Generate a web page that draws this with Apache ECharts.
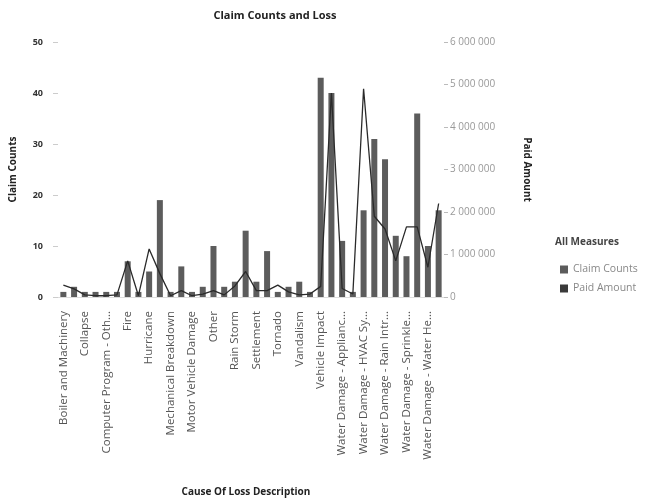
<!DOCTYPE html>
<html>
<head>
<meta charset="utf-8">
<script src="https://cdn.jsdelivr.net/npm/echarts@6/dist/echarts.min.js"></script>
<style>
  html, body { margin: 0; padding: 0; background: #fff; }
  #main { width: 650px; height: 502px; }
</style>
</head>
<body>
<div id="main"></div>
<script>
var categories = [
  'Boiler and Machinery', 'Burglary', 'Collapse', 'Computer Equipment',
  'Computer Program - Oth...', 'Explosion', 'Fire', 'Hail',
  'Hurricane', 'Lightning', 'Mechanical Breakdown', 'Mold',
  'Motor Vehicle Damage', 'Off Premises Power', 'Other', 'Power Surge',
  'Rain Storm', 'Roof Leak', 'Settlement', 'Theft',
  'Tornado', 'Utility Failure', 'Vandalism', 'Vehicle Damage',
  'Vehicle Impact', 'Volcanic Eruption', 'Water Damage - Applianc...', 'Water Damage - Frozen P...',
  'Water Damage - HVAC Sy...', 'Water Damage - Pipe Bur...', 'Water Damage - Rain Intr...', 'Water Damage - Sewer B...',
  'Water Damage - Sprinkle...', 'Water Damage - Toilet O...', 'Water Damage - Water He...', 'Windstorm'
];
var claimCounts = [1, 2, 1, 1, 1, 1, 7, 1, 5, 19, 1, 6, 1, 2, 10, 2, 3, 13, 3, 9, 1, 2, 3, 1, 43, 40, 11, 1, 17, 31, 27, 12, 8, 36, 10, 17];
var paidAmount = [280000, 190000, 50000, 30000, 30000, 50000, 850000, 30000, 1130000, 550000, 30000, 150000,
  30000, 70000, 150000, 50000, 260000, 600000, 150000, 150000, 280000, 120000, 50000, 70000,
  250000, 4800000, 200000, 70000, 4900000, 1900000, 1600000, 850000, 1650000, 1650000, 700000, 2200000];
var countTicks = { min: 0, max: 50, interval: 10 };
var amountTicks = { min: 0, max: 6000000, interval: 1000000 };

var dom = document.getElementById('main');
var myChart = echarts.init(dom);
var font = 'Open Sans, DejaVu Sans, sans-serif';

function spaced(v) {
  return String(v).replace(/\B(?=(\d{3})+(?!\d))/g, ' ');
}

var option = {
  backgroundColor: '#ffffff',
  animation: false,
  textStyle: { fontFamily: font },
  title: {
    text: 'Claim Counts and Loss',
    left: 270, top: 5, textAlign: 'center',
    textStyle: { fontSize: 11, fontWeight: 'bold', color: '#222', fontFamily: font }
  },
  legend: {
    orient: 'vertical',
    left: 555, top: 259,
    icon: 'rect', itemWidth: 8, itemHeight: 8, itemGap: 8,
    textStyle: { fontSize: 10.5, color: '#888', fontFamily: font },
    data: ['Claim Counts', 'Paid Amount']
  },
  graphic: [{
    type: 'text', left: 555, top: 237,
    style: { text: 'All Measures', fontSize: 10, fontWeight: 'bold', fill: '#444', fontFamily: font }
  }],
  grid: { left: 55, right: 206, top: 42, bottom: 204 },
  xAxis: {
    type: 'category',
    data: categories,
    name: 'Cause Of Loss Description',
    nameLocation: 'middle',
    nameGap: 190,
    nameTextStyle: { fontSize: 10, fontWeight: 'bold', color: '#222', padding: [0, 10, 0, 0] },
    axisLine: { show: true, lineStyle: { color: '#ddd' } },
    axisTick: { show: false },
    axisLabel: { interval: 1, rotate: 90, fontSize: 11.5, color: '#555', margin: 14 }
  },
  yAxis: [{
    type: 'value',
    min: countTicks.min, max: countTicks.max, interval: countTicks.interval,
    name: 'Claim Counts',
    nameLocation: 'middle',
    nameGap: 40,
    nameTextStyle: { fontSize: 10, fontWeight: 'bold', color: '#222' },
    axisLine: { show: false },
    axisTick: { show: true, length: 5, lineStyle: { color: '#ccc' } },
    axisLabel: { fontSize: 9, fontWeight: 'bold', color: '#333', margin: 15 },
    splitLine: { show: false }
  }, {
    type: 'value',
    min: amountTicks.min, max: amountTicks.max, interval: amountTicks.interval,
    name: 'Paid Amount',
    nameLocation: 'middle',
    nameGap: 78,
    nameRotate: -90,
    nameTextStyle: { fontSize: 10, fontWeight: 'bold', color: '#222' },
    axisLine: { show: false },
    axisTick: { show: true, length: 4, lineStyle: { color: '#bbb' } },
    axisLabel: { fontSize: 10, color: '#999', margin: 6, formatter: spaced },
    splitLine: { show: false }
  }],
  series: [{
    name: 'Claim Counts',
    type: 'bar',
    yAxisIndex: 0,
    barWidth: 6,
    itemStyle: { color: '#5c5c5c' },
    data: claimCounts
  }, {
    name: 'Paid Amount',
    type: 'line',
    yAxisIndex: 1,
    showSymbol: false,
    symbol: 'rect',
    lineStyle: { width: 1.3, color: '#2a2a2a' },
    itemStyle: { color: '#3a3a3a' },
    data: paidAmount
  }]
};

window.onresize = function () {
  myChart.resize();
};

if (option && typeof option === 'object') {
  myChart.setOption(option);
}
</script>
</body>
</html>
